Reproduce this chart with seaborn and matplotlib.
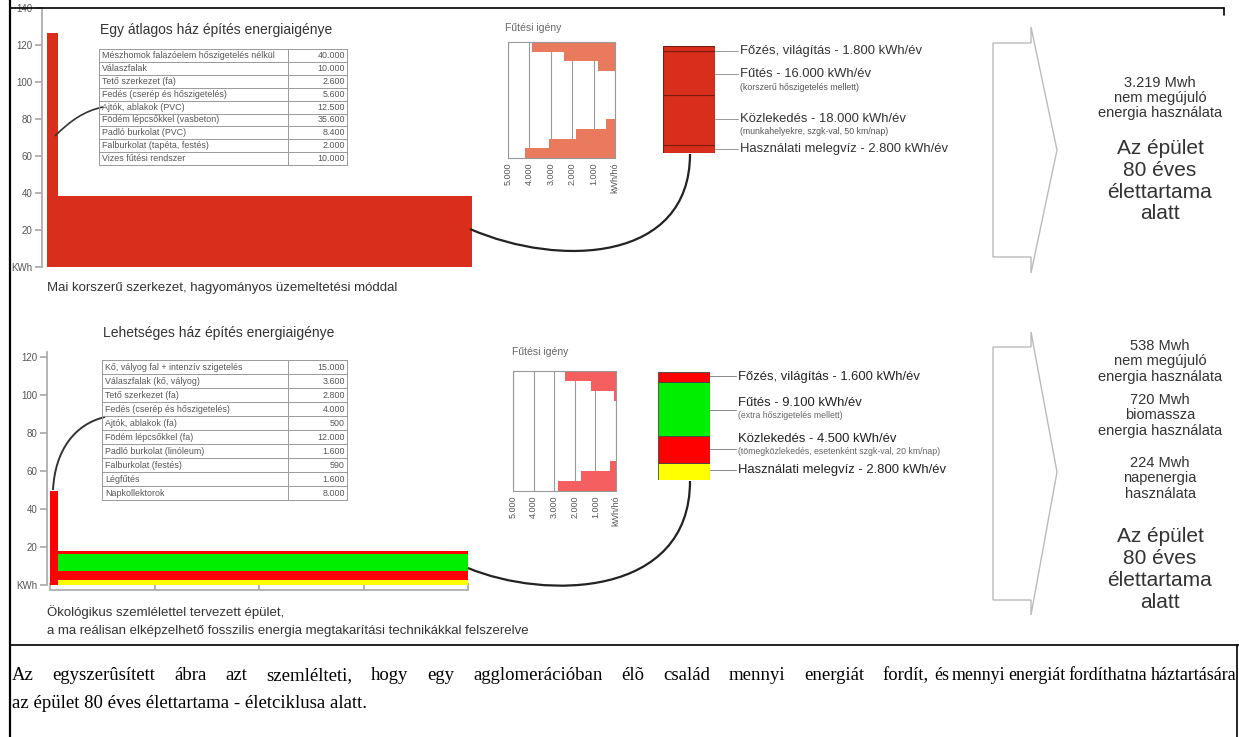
import numpy as np
import pandas as pd
import matplotlib
matplotlib.use("Agg")
import matplotlib.pyplot as plt
import seaborn as sns
from matplotlib.lines import Line2D
from matplotlib.patches import PathPatch, Polygon
from matplotlib.path import Path

# ---------------------------
# Data
# ---------------------------
lifetime_years = 80
build_years = [2.0, 1.5]  # top building, bottom building

top_table_items = [
    "Mészhomok falazóelem hőszigetelés nélkül",
    "Válaszfalak",
    "Tető szerkezet (fa)",
    "Fedés (cserép és hőszigetelés)",
    "Ajtók, ablakok (PVC)",
    "Födém lépcsőkkel (vasbeton)",
    "Padló burkolat (PVC)",
    "Falburkolat (tapéta, festés)",
    "Vizes fűtési rendszer",
]
top_table_values = [40000, 10000, 2600, 5600, 12500, 35600, 8400, 2000, 10000]

bottom_table_items = [
    "Kő, vályog fal + intenzív szigetelés",
    "Válaszfalak (kő, vályog)",
    "Tető szerkezet (fa)",
    "Fedés (cserép és hőszigetelés)",
    "Ajtók, ablakok (fa)",
    "Födém lépcsőkkel (fa)",
    "Padló burkolat (linóleum)",
    "Falburkolat (festés)",
    "Légfűtés",
    "Napkollektorok",
]
bottom_table_values = [15000, 3600, 2800, 4000, 500, 12000, 1600, 590, 1600, 8000]

use_labels = ["Főzés, világítás", "Fűtés", "Közlekedés", "Használati melegvíz"]
top_use_kwh = [1800, 16000, 18000, 2800]
bottom_use_kwh = [1600, 9100, 4500, 2800]
top_use_notes = ["", "(korszerű hőszigetelés mellett)", "(munkahelyekre, szgk-val, 50 km/nap)", ""]
bottom_use_notes = ["", "(extra hőszigetelés mellett)",
                    "(tömegközlekedés, esetenként szgk-val, 20 km/nap)", ""]

months = ["jan", "feb", "már", "ápr", "máj", "jún", "júl", "aug", "szep", "okt", "nov", "dec"]
top_heating = [3900, 2400, 800, 0, 0, 0, 0, 0, 400, 1800, 3100, 4200]
bottom_heating = [2500, 1200, 100, 0, 0, 0, 0, 0, 0, 300, 1700, 2800]
heating_ticks = [5000, 4000, 3000, 2000, 1000, 0]
heating_ticklabels = ["5.000", "4.000", "3.000", "2.000", "1.000", "kWh/hó"]

top_yticks = [0, 20, 40, 60, 80, 100, 120, 140]
bottom_yticks = [0, 20, 40, 60, 80, 100, 120]
bottom_xticks = [0, 20, 40, 60, 80]

top_summary = ["3.219 Mwh", "nem megújuló", "energia használata"]
bottom_summary = [
    ["538 Mwh", "nem megújuló", "energia használata"],
    ["720 Mwh", "biomassza", "energia használata"],
    ["224 Mwh", "napenergia", "használata"],
]
lifetime_text = ["Az épület", "80 éves", "élettartama", "alatt"]

caption_a = "Az egyszerûsített ábra azt szemlélteti, hogy egy agglomerációban élõ család mennyi energiát fordít,"
caption_b = "és mennyi energiát fordíthatna háztartására"
caption_2 = "az épület 80 éves élettartama - életciklusa alatt."

# colours
top_red = "#D92E1C"
heat_top_col = "#E97A5E"
heat_bottom_col = "#F65F5F"
eco_cols = ["#FF0000", "#00EE00", "#FF0000", "#FFFF00"]  # same order as use_labels
txt = "#333333"
grey = "#aaaaaa"

# ---------------------------
# Figure setup
# ---------------------------
sns.set_theme(style="white")
plt.rcParams["font.family"] = ["Liberation Sans", "DejaVu Sans"]

W, H = 1239, 737
fig = plt.figure(figsize=(W / 100, H / 100), dpi=100)


def fx(x):
    return x / W


def fy(y):
    return 1 - y / H


def ax_px(x0, y0, x1, y1):
    a = fig.add_axes([fx(x0), fy(y1), (x1 - x0) / W, (y1 - y0) / H])
    a.patch.set_alpha(0)
    return a


def line(xs, ys, **kw):
    fig.add_artist(Line2D([fx(x) for x in xs], [fy(y) for y in ys],
                          transform=fig.transFigure, **kw))


def curve(pts, **kw):
    verts = [(fx(x), fy(y)) for x, y in pts]
    codes = [Path.MOVETO, Path.CURVE4, Path.CURVE4, Path.CURVE4]
    fig.add_artist(PathPatch(Path(verts, codes), fill=False,
                             transform=fig.transFigure, **kw))


def fmt(v):
    return f"{v:,}".replace(",", ".")


def text(x, y, s, **kw):
    kw.setdefault("color", txt)
    kw.setdefault("va", "center")
    return fig.text(fx(x), fy(y), s, **kw)


# ---------------------------
# Frame
# ---------------------------
line([10, 10], [0, 737], color="black", lw=1.6)
line([10, 1224], [8, 8], color="black", lw=1.2)
line([1224, 1224], [8, 15], color="black", lw=1.2)
line([10, 1239], [645, 645], color="black", lw=1.2)
line([1237, 1237], [645, 737], color="black", lw=1.2)

# ---------------------------
# Main bar charts
# ---------------------------
ax1 = ax_px(47, 8, 472, 267)
ax1.bar(0, sum(top_table_values) / 1000, width=build_years[0], align="edge",
        color=top_red, lw=0)
ax1.bar(build_years[0], sum(top_use_kwh) / 1000, width=lifetime_years - build_years[0],
        align="edge", color=top_red, lw=0)
ax1.set_xlim(0, lifetime_years)
ax1.set_ylim(0, 140)
for s in ["top", "right", "bottom"]:
    ax1.spines[s].set_visible(False)
ax1.spines["left"].set_position(("outward", 3.6))
ax1.spines["left"].set_color(grey)
ax1.set_xticks([])
ax1.set_yticks(top_yticks)
ax1.set_yticklabels(["KWh"] + [str(t) for t in top_yticks[1:]])
ax1.tick_params(axis="y", left=True, length=5, color=grey, labelsize=7,
                labelcolor="#555", pad=2)

ax2 = ax_px(50, 352, 468, 585)
ax2.bar(0, sum(bottom_table_values) / 1000, width=build_years[1], align="edge",
        color=eco_cols[0], lw=0)
stack_vals = [v / 1000 for v in bottom_use_kwh][::-1]
stack_cols = eco_cols[::-1]
bottoms = np.concatenate([[0], np.cumsum(stack_vals)[:-1]])
for v, b, c in zip(stack_vals, bottoms, stack_cols):
    ax2.bar(build_years[1], v, bottom=b, width=lifetime_years - build_years[1],
            align="edge", color=c, lw=0)
ax2.set_xlim(0, lifetime_years)
ax2.set_ylim(0, 122.6)
for s in ["top", "right"]:
    ax2.spines[s].set_visible(False)
ax2.spines["left"].set_position(("outward", 2.2))
ax2.spines["bottom"].set_position(("outward", 3.6))
ax2.spines["left"].set_color(grey)
ax2.spines["bottom"].set_color(grey)
ax2.set_yticks(bottom_yticks)
ax2.set_yticklabels(["KWh"] + [str(t) for t in bottom_yticks[1:]])
ax2.set_xticks(bottom_xticks)
ax2.set_xticklabels([])
ax2.tick_params(axis="y", left=True, length=5, color=grey, labelsize=7,
                labelcolor="#555", pad=2)
ax2.tick_params(axis="x", bottom=True, direction="in", length=5, color=grey)

# ---------------------------
# Tables
# ---------------------------
def draw_table(items, values, x0, xdiv, x1, y0, rowh):
    n = len(items)
    for i in range(n + 1):
        line([x0, x1], [y0 + i * rowh] * 2, color="#999", lw=0.7)
    for x in (x0, xdiv, x1):
        line([x, x], [y0, y0 + n * rowh], color="#999", lw=0.7)
    for i, (it, v) in enumerate(zip(items, values)):
        yc = y0 + (i + 0.5) * rowh
        text(x0 + 3, yc, it, fontsize=6.4, color="#555")
        text(x1 - 2, yc, fmt(v), fontsize=6.4, color="#555", ha="right")


text(100, 30, "Egy átlagos ház építés energiaigénye", fontsize=10)
draw_table(top_table_items, top_table_values, 99, 288, 347, 49, 12.9)
text(103, 333, "Lehetséges ház építés energiaigénye", fontsize=10)
draw_table(bottom_table_items, bottom_table_values, 102, 288, 347, 360, 14.0)

text(47, 288, "Mai korszerű szerkezet, hagyományos üzemeltetési móddal", fontsize=9.5)
text(47, 612, "Ökológikus szemlélettel tervezett épület,", fontsize=9.5)
text(47, 631, "a ma reálisan elképzelhető fosszilis energia megtakarítási technikákkal felszerelve",
     fontsize=9.5)

# ---------------------------
# Heating demand charts
# ---------------------------
def heating_chart(vals, col, box, title_xy):
    a = ax_px(*box)
    df = pd.DataFrame({"month": months, "kwh": vals})
    sns.barplot(data=df, x="kwh", y="month", orient="h", color=col, width=1,
                saturation=1, errorbar=None, linewidth=0, ax=a)
    a.set_xlim(5000, 0)
    a.set_ylim(11.5, -0.5)
    a.set_xticks(heating_ticks)
    a.set_xticklabels(heating_ticklabels, rotation=90, fontsize=6.5, color="#555")
    a.set_yticks([])
    a.set_xlabel("")
    a.set_ylabel("")
    a.set_axisbelow(True)
    a.xaxis.grid(True, color="#999", lw=0.8)
    a.tick_params(axis="x", length=0, pad=3)
    for s in a.spines.values():
        s.set_color("#999")
        s.set_linewidth(0.8)
    text(title_xy[0], title_xy[1], "Fűtési igény", fontsize=7.5, color="#666")


heating_chart(top_heating, heat_top_col, (508, 42, 615, 158), (505, 28))
heating_chart(bottom_heating, heat_bottom_col, (513, 371, 616, 491), (512, 352))

# ---------------------------
# Yearly use stacks
# ---------------------------
def use_stack(vals, cols, box, edge, elw):
    a = ax_px(*box)
    v = vals[::-1]
    c = cols[::-1]
    b = np.concatenate([[0], np.cumsum(v)[:-1]])
    a.bar([0] * len(v), v, bottom=b, width=1, color=c, edgecolor=edge, lw=elw)
    a.set_xlim(-0.5, 0.5)
    a.set_ylim(0, sum(vals))
    a.axis("off")


use_stack(top_use_kwh, [top_red] * 4, (663, 46, 715, 153), "#7a1a10", 0.8)
use_stack(bottom_use_kwh, eco_cols, (658, 372, 710, 480), "#444", 0.6)

top_label_y = [51, 74, 119, 149]
top_note_y = [None, 87, 131, None]
bottom_label_y = [377, 403, 439, 470]
bottom_note_y = [None, 416, 451, None]
bottom_lead_y = [376, 410, 449, 470]

for lab, v, note, ly, ny in zip(use_labels, top_use_kwh, top_use_notes, top_label_y, top_note_y):
    line([715, 738], [ly, ly], color="#999", lw=0.7)
    text(740, ly, f"{lab} - {fmt(v)} kWh/év", fontsize=9.4)
    if note:
        text(740, ny, note, fontsize=6.3, color="#555")

for lab, v, note, ly, ny, lead in zip(use_labels, bottom_use_kwh, bottom_use_notes,
                                      bottom_label_y, bottom_note_y, bottom_lead_y):
    line([710, 736], [lead, lead], color="#888", lw=0.7)
    text(738, ly, f"{lab} - {fmt(v)} kWh/év", fontsize=9.4, color="#222")
    if note:
        text(738, ny, note, fontsize=6.3, color="#666")

# ---------------------------
# Connectors
# ---------------------------
curve([(55, 136), (70, 121), (84, 111), (103, 107)], lw=1.2, ec="#333")
curve([(470, 229), (560, 268), (690, 262), (690, 154)], lw=1.6, ec="#222")
curve([(53, 490), (55, 450), (75, 424), (105, 417)], lw=1.4, ec="#333")
curve([(468, 568), (545, 600), (690, 598), (690, 481)], lw=1.6, ec="#222")

# ---------------------------
# Arrows and summaries
# ---------------------------
def arrow(top, bottom, notch, tip_y):
    pts = [(993, top), (1031, top), (1031, top - notch), (1057, tip_y),
           (1031, bottom + notch), (1031, bottom), (993, bottom)]
    fig.add_artist(Polygon([(fx(x), fy(y)) for x, y in pts], closed=True, fill=False,
                           ec="#bbbbbb", lw=1.0, transform=fig.transFigure))


arrow(43, 257, 16, 150)
arrow(347, 600, 15, 472)

for i, s in enumerate(top_summary):
    text(1160, 83 + i * 15, s, fontsize=10.5, ha="center")
for i, s in enumerate(lifetime_text):
    text(1160, 149 + i * 21.5, s, fontsize=15, ha="center")

for g, block in enumerate(bottom_summary):
    y0 = [346, 400, 463][g]
    for i, s in enumerate(block):
        text(1160, y0 + i * 15.3, s, fontsize=10.5, ha="center")
for i, s in enumerate(lifetime_text):
    text(1160, 536 + i * 22, s, fontsize=15, ha="center")

# ---------------------------
# Caption (serif, justified first line)
# ---------------------------
renderer = fig.canvas.get_renderer()


def justify(s, x0, x1, y, size):
    words = s.split()
    while True:
        ts = [text(0, y, w, fontsize=size, color="black",
                   family=["Liberation Serif", "DejaVu Serif"]) for w in words]
        widths = [t.get_window_extent(renderer).width for t in ts]
        gap = (x1 - x0 - sum(widths)) / (len(words) - 1)
        if gap >= 2.5 or size < 7:
            break
        for t in ts:
            t.remove()
        size -= 0.3
    x = x0
    for t, w in zip(ts, widths):
        t.set_x(fx(x))
        x += w + gap


justify(caption_a, 12, 929, 676, 13.5)
justify(caption_b, 934, 1236, 676, 13.5)
text(12, 703, caption_2, fontsize=13.5, color="black",
     family=["Liberation Serif", "DejaVu Serif"])

fig.savefig("out.png", dpi=100)
